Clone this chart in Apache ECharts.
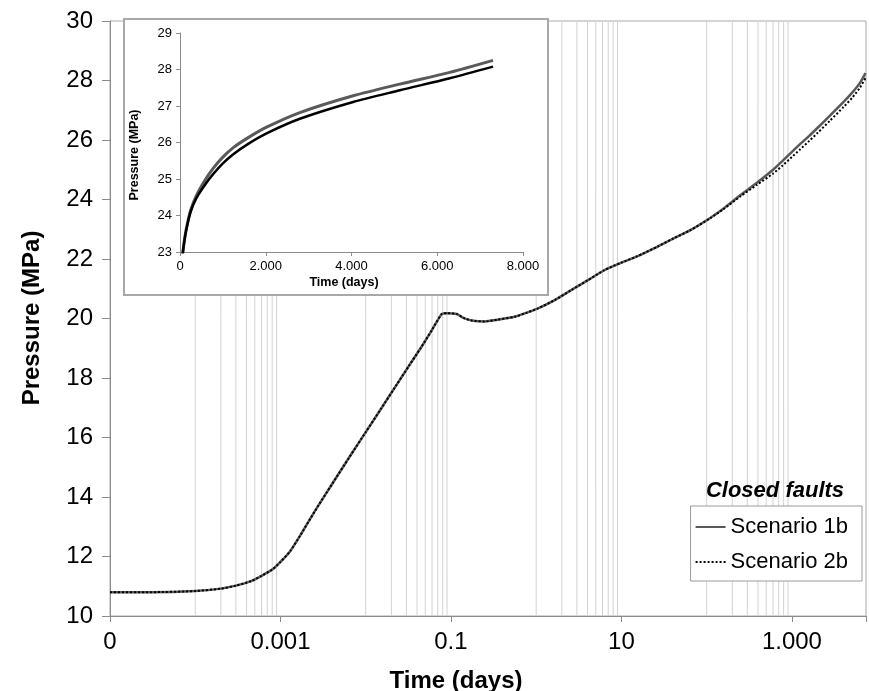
<!DOCTYPE html>
<html>
<head>
<meta charset="utf-8">
<script src="https://cdn.jsdelivr.net/npm/echarts@6/dist/echarts.min.js"></script>
<style>
	html, body { margin: 0; padding: 0; background: #fff; }
	#chart { width: 869px; height: 691px; }
</style>
</head>
<body>
<div id="chart"></div>
<script>
// time in days
var times = [1e-5, 3e-5, 1e-4, 2e-4, 3e-4, 4.5e-4, 6e-4, 8e-4, 1e-3, 1.3e-3, 1.7e-3, 2.5e-3, 4e-3, 6.5e-3,
	0.01, 0.015, 0.023, 0.032, 0.044, 0.06, 0.078, 0.09, 0.117, 0.14, 0.176, 0.25, 0.35, 0.56, 0.75,
	1.05, 1.65, 2.6, 4, 6.35, 10, 15, 26.6, 40, 65, 110, 155, 250, 388, 600, 777, 1000, 1243, 1600,
	2019, 2796, 4039, 5126, 6291, 7301];
// pressure (MPa)
var scenario1b = [10.8, 10.8, 10.84, 10.92, 11.02, 11.17, 11.35, 11.56, 11.82, 12.18, 12.7, 13.5, 14.42, 15.36,
	16.18, 16.95, 17.77, 18.4, 19.0, 19.62, 20.15, 20.18, 20.15, 20.02, 19.93, 19.9, 19.96, 20.06, 20.18,
	20.34, 20.62, 20.96, 21.28, 21.63, 21.88, 22.08, 22.42, 22.68, 22.98, 23.38, 23.68, 24.15, 24.56, 25.0, 25.3, 25.6, 25.86, 26.14,
	26.42, 26.82, 27.28, 27.6, 27.92, 28.25];
var scenario2b = [10.8, 10.8, 10.84, 10.92, 11.02, 11.17, 11.35, 11.56, 11.82, 12.18, 12.7, 13.5, 14.42, 15.36,
	16.18, 16.95, 17.77, 18.4, 19.0, 19.62, 20.15, 20.18, 20.15, 20.02, 19.93, 19.9, 19.96, 20.06, 20.18,
	20.34, 20.62, 20.96, 21.28, 21.63, 21.88, 22.08, 22.42, 22.68, 22.97, 23.37, 23.66, 24.11, 24.49, 24.87, 25.14, 25.43, 25.68, 25.97,
	26.25, 26.65, 27.11, 27.43, 27.76, 28.08];

var tickValues = [1e-5, 1e-3, 0.1, 10, 1000];
var tickLabels = ['0', '0.001', '0.1', '10', '1.000'];
var insetTickLabels = ['0', '2.000', '4.000', '6.000', '8.000'];
// decades that carry the thin vertical lines (1..9 times the decade)
var gridDecades = [1e-4, 1e-2, 1, 100];

var pairs = function(ys) {
	return times.map(function(t, i) { return [t, ys[i]]; });
};

// thin vertical lines as one broken line series
var gridData = [];
gridDecades.forEach(function(d) {
	for (var k = 1; k <= 9; k++) {
		gridData.push([k * d, 10], [k * d, 30], [k * d, '-']);
	}
});

var font = 'Arial, "Liberation Sans", sans-serif';
var gray = '#8c8c8c';

var chart = echarts.init(document.getElementById('chart'));
var option = {
	animation: false,
	textStyle: { fontFamily: font },
	grid: [{
		left: 110, top: 21, right: 0, bottom: 75,
		show: true, borderColor: '#a8a8a8', borderWidth: 1
	}, {
		left: 180, top: 33, right: 346, bottom: 439
	}],
	xAxis: [{
		type: 'log',
		gridIndex: 0,
		min: 1e-5,
		max: 7400,
		interval: 2,
		axisLine: { lineStyle: { color: gray } },
		axisTick: { length: 6, lineStyle: { color: gray } },
		splitLine: { show: false },
		minorTick: { show: false },
		axisLabel: {
			color: '#000', fontSize: 24, margin: 14, fontFamily: font,
			formatter: function(v) {
				for (var i = 0; i < tickValues.length; i++) {
					if (Math.abs(Math.log10(v) - Math.log10(tickValues[i])) < 1e-6) return tickLabels[i];
				}
				return '';
			}
		}
	}, {
		type: 'value',
		gridIndex: 1,
		min: 0, max: 8000, interval: 2000,
		z: 20,
		axisLine: { lineStyle: { color: gray } },
		axisTick: { length: 4, lineStyle: { color: gray } },
		splitLine: { show: false },
		axisLabel: {
			color: '#000', fontSize: 13, margin: 8, fontFamily: font,
			formatter: function(v) { return insetTickLabels[Math.round(v / 2000)]; }
		}
	}],
	yAxis: [{
		type: 'value',
		gridIndex: 0,
		min: 10, max: 30, interval: 2,
		axisLine: { show: true, lineStyle: { color: gray } },
		axisTick: { show: true, length: 8, lineStyle: { color: gray } },
		splitLine: { show: false },
		axisLabel: { color: '#000', fontSize: 24, margin: 17, fontFamily: font }
	}, {
		type: 'value',
		gridIndex: 1,
		min: 23, max: 29, interval: 1,
		z: 20,
		axisLine: { show: true, lineStyle: { color: gray } },
		axisTick: { show: true, length: 4, lineStyle: { color: gray } },
		splitLine: { show: false },
		axisLabel: { color: '#000', fontSize: 13, margin: 8, fontFamily: font }
	}],
	legend: {
		data: ['Scenario 1b', 'Scenario 2b'],
		orient: 'vertical',
		right: 7,
		top: 506,
		z: 10,
		itemWidth: 30,
		itemHeight: 10,
		itemGap: 13,
		padding: [10, 14, 8, 4],
		backgroundColor: '#fff',
		borderColor: '#9a9a9a',
		borderWidth: 1,
		itemStyle: { opacity: 0 },
		textStyle: { color: '#000', fontSize: 22, fontFamily: font }
	},
	graphic: [
		{ type: 'rect', z: 10, shape: { x: 124, y: 19, width: 424, height: 276 },
		  style: { fill: '#fff', stroke: '#a8a8a8', lineWidth: 2 } },
		{ type: 'text', z: 30, x: 344, y: 283,
		  style: { text: 'Time (days)', font: 'bold 12.5px ' + font, fill: '#000', align: 'center', verticalAlign: 'middle' } },
		{ type: 'text', z: 30, x: 135, y: 155, rotation: Math.PI / 2,
		  style: { text: 'Pressure (MPa)', font: 'bold 12.5px ' + font, fill: '#000', align: 'center', verticalAlign: 'middle' } },
		{ type: 'text', z: 30, x: 456, y: 681,
		  style: { text: 'Time (days)', font: 'bold 24px ' + font, fill: '#000', align: 'center', verticalAlign: 'middle' } },
		{ type: 'text', z: 30, x: 32, y: 318, rotation: Math.PI / 2,
		  style: { text: 'Pressure (MPa)', font: 'bold 24px ' + font, fill: '#000', align: 'center', verticalAlign: 'middle' } },
		{ type: 'text', z: 30, x: 775, y: 491,
		  style: { text: 'Closed faults', font: 'italic bold 22px ' + font, fill: '#000', align: 'center', verticalAlign: 'middle' } }
	],
	series: [{
		name: 'grid',
		type: 'line',
		xAxisIndex: 0, yAxisIndex: 0,
		data: gridData,
		z: 1,
		silent: true,
		symbol: 'none',
		connectNulls: false,
		lineStyle: { color: '#d2d2d2', width: 1 }
	}, {
		name: 'Scenario 1b',
		type: 'line',
		xAxisIndex: 0, yAxisIndex: 0,
		data: pairs(scenario1b),
		showSymbol: false, symbol: 'none',
		smooth: 0.2,
		lineStyle: { color: '#595959', width: 2.5, type: 'solid' },
		itemStyle: { color: '#595959' },
		z: 3
	}, {
		name: 'Scenario 2b',
		type: 'line',
		xAxisIndex: 0, yAxisIndex: 0,
		data: pairs(scenario2b),
		showSymbol: false, symbol: 'none',
		smooth: 0.2,
		lineStyle: { color: '#000', width: 2, type: 'dotted' },
		itemStyle: { color: '#000' },
		z: 4
	}, {
		name: 'inset 1b',
		type: 'line',
		xAxisIndex: 1, yAxisIndex: 1,
		data: pairs(scenario1b),
		symbol: 'none',
		smooth: 0.3,
		clip: true,
		lineStyle: { color: '#5a5a5a', width: 3 },
		z: 25
	}, {
		name: 'inset 2b',
		type: 'line',
		xAxisIndex: 1, yAxisIndex: 1,
		data: pairs(scenario2b),
		symbol: 'none',
		smooth: 0.3,
		clip: true,
		lineStyle: { color: '#000', width: 2.5 },
		z: 26
	}]
};
chart.setOption(option);
</script>
</body>
</html>
